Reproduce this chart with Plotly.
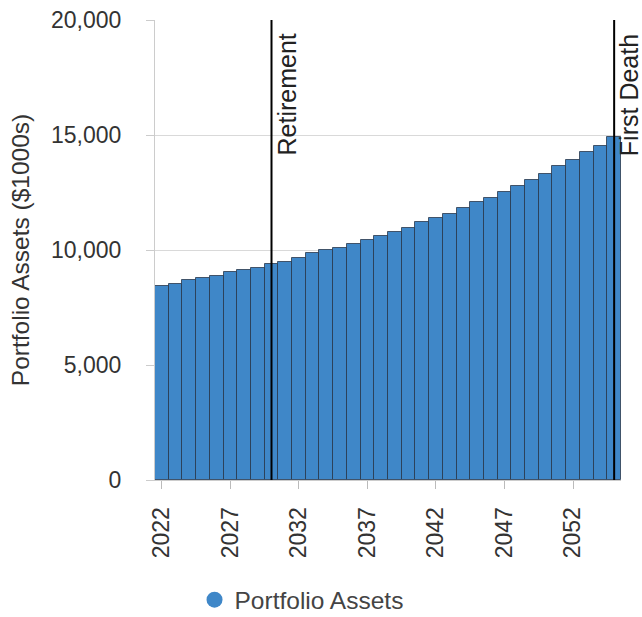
import plotly.graph_objects as go

years = list(range(2022, 2056))
assets = [8450, 8540, 8700, 8780, 8880, 9040, 9130, 9230, 9410, 9480,
          9670, 9860, 10000, 10100, 10270, 10450, 10610, 10770, 10970, 11220,
          11410, 11570, 11830, 12090, 12260, 12520, 12780, 13040, 13300, 13650,
          13910, 14260, 14520, 14910]
events = ["Retirement", "First Death"]
event_years = [2030, 2055]

FONT = "Liberation Sans, Arial, sans-serif"

fig = go.Figure()
fig.add_trace(go.Bar(
    x=years, y=assets, name="Portfolio Assets", showlegend=False,
    marker=dict(color="#3f87c8", line=dict(color="rgba(40,55,75,0.8)", width=1)),
))
fig.add_trace(go.Scatter(
    x=[None], y=[None], mode="markers", name="Portfolio Assets",
    marker=dict(symbol="circle", size=22, color="#3f87c8"),
))

for name, yr in zip(events, event_years):
    fig.add_shape(type="line", xref="x", yref="paper", x0=yr, x1=yr, y0=0, y1=1,
                  line=dict(color="black", width=2))
    fig.add_annotation(x=yr, y=1, xref="x", yref="paper", text=name, textangle=-90,
                       showarrow=False, xanchor="left", yanchor="top", xshift=-1, yshift=-12,
                       font=dict(family=FONT, size=25, color="#222"))

fig.update_layout(
    width=642, height=617,
    margin=dict(l=155, r=21, t=20, b=137),
    paper_bgcolor="white", plot_bgcolor="white",
    bargap=0,
    font=dict(family=FONT, size=23, color="#333"),
    showlegend=True,
    legend=dict(orientation="h", xref="container", yref="container",
                x=0.303, xanchor="left", y=0.028, yanchor="middle",
                font=dict(family=FONT, size=24.5, color="#444"), itemsizing="trace"),
)
fig.update_xaxes(
    range=[2021.5, 2055.5], tickmode="linear", tick0=2022, dtick=5,
    tickangle=-90, ticks="outside", ticklen=8, tickcolor="#bbb",
    showline=True, linecolor="#ccc", showgrid=False, zeroline=False,
    ticklabelstandoff=9, automargin=False,
    tickfont=dict(family=FONT, size=23, color="#333"),
)
fig.update_yaxes(
    range=[0, 20000], tickmode="linear", tick0=0, dtick=5000, tickformat=",",
    ticks="outside", ticklen=8, tickcolor="#ccc",
    showline=True, linecolor="#ccc", showgrid=True, gridcolor="#d9d9d9", zeroline=False,
    ticklabelstandoff=20, automargin=False,
    tickfont=dict(family=FONT, size=23, color="#333"),
    title=dict(text="Portfolio Assets ($1000s)", standoff=14,
               font=dict(family=FONT, size=24.5, color="#333")),
)

fig.write_html("out.html")
